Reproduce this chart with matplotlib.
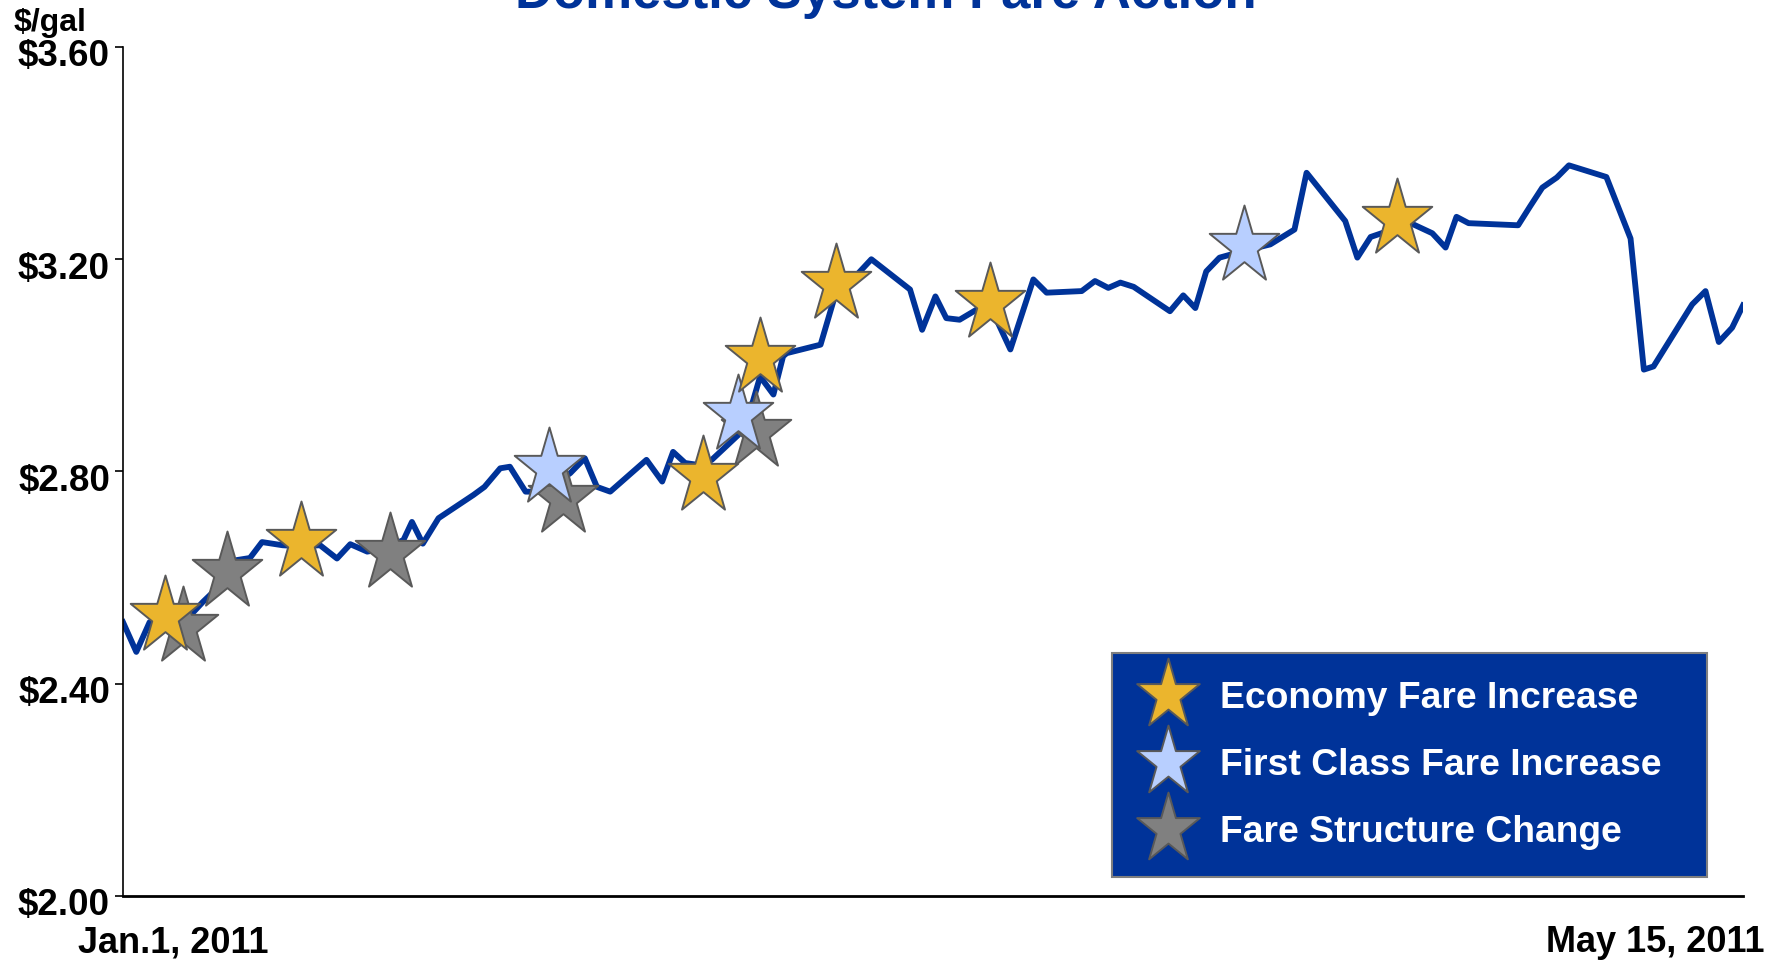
import numpy as np
import matplotlib.pyplot as plt
import matplotlib.transforms as mtransforms
from matplotlib.path import Path

plt.rcParams["font.family"] = ["Liberation Sans", "DejaVu Sans"]
plt.rcParams["font.weight"] = "bold"

# jet fuel price, days after Jan 1 2011
days = [0.0, 1.1, 2.2, 3.5, 4.7, 5.7, 6.6, 7.6, 8.7, 9.4,
        10.5, 11.5, 13.2, 14.6, 16.3, 17.7, 18.8, 20.2, 21.7, 23.2,
        23.9, 24.8, 26.1, 29.0, 29.9, 31.2, 32.0, 33.3, 34.5, 35.7,
        37.0, 38.2, 39.2, 40.3, 43.3, 44.6, 45.5, 46.5, 47.7, 48.7,
        50.9, 52.1, 52.7, 53.8, 54.6, 54.9, 57.7, 58.8, 61.9, 65.1,
        66.1, 67.2, 68.1, 69.2, 70.6, 71.7, 73.4, 75.3, 76.4, 79.3,
        80.4, 81.5, 82.5, 83.6, 86.6, 87.7, 88.7, 89.6, 90.7, 92.6,
        94.9, 96.9, 97.9, 101.1, 102.1, 103.2, 104.1, 105.4, 106.7, 108.3,
        109.4, 110.3, 111.3, 115.4, 116.4, 117.4, 118.6, 119.6, 122.7, 124.7,
        125.8, 126.6, 129.8, 130.9, 132.0, 133.1, 134.0]
price = [2.516, 2.460, 2.516, 2.523, 2.527, 2.532, 2.554, 2.576, 2.603, 2.633,
         2.637, 2.667, 2.661, 2.659, 2.661, 2.636, 2.663, 2.649, 2.655, 2.671,
         2.705, 2.664, 2.712, 2.756, 2.771, 2.806, 2.809, 2.762, 2.762, 2.776,
         2.797, 2.825, 2.771, 2.762, 2.822, 2.781, 2.837, 2.816, 2.812, 2.822,
         2.869, 2.932, 2.979, 2.945, 3.017, 3.023, 3.039, 3.124, 3.200, 3.143,
         3.067, 3.130, 3.089, 3.086, 3.105, 3.113, 3.030, 3.162, 3.137, 3.140,
         3.159, 3.146, 3.156, 3.148, 3.102, 3.132, 3.108, 3.177, 3.203, 3.215,
         3.228, 3.256, 3.363, 3.272, 3.203, 3.242, 3.249, 3.260, 3.266, 3.249,
         3.222, 3.280, 3.268, 3.264, 3.300, 3.335, 3.354, 3.377, 3.355, 3.239,
         2.992, 2.998, 3.115, 3.140, 3.044, 3.071, 3.113]

# fare actions (day, price level)
econ_days = [3.5, 14.7, 48.0, 52.7, 59.0, 71.7, 105.4]
econ_price = [2.528, 2.668, 2.791, 3.014, 3.154, 3.118, 3.276]
first_days = [35.2, 50.9, 92.7]
first_price = [2.806, 2.907, 3.225]
struct_days = [5.0, 8.6, 22.1, 36.4, 52.4]
struct_price = [2.507, 2.611, 2.646, 2.750, 2.874]

yticks = [2.00, 2.40, 2.80, 3.20, 3.60]
ytick_labels = ["$2.00", "$2.40", "$2.80", "$3.20", "$3.60"]

BLUE = "#003399"


def star_marker(inner=0.382, stretch=1.12):
    ang = np.pi / 2 + np.arange(10) * np.pi / 5
    r = np.where(np.arange(10) % 2 == 0, 1.0, inner)
    verts = np.column_stack([r * np.cos(ang), r * np.sin(ang) * stretch])
    verts = np.vstack([verts, verts[:1]])
    codes = [Path.MOVETO] + [Path.LINETO] * 9 + [Path.CLOSEPOLY]
    return Path(verts, codes)


STAR = star_marker()

fig = plt.figure(figsize=(17.86, 9.64), dpi=100)
ax = fig.add_axes([0.06887, 0.07054, 0.90705, 0.88071])

ax.plot(days, price, color=BLUE, linewidth=4.2, solid_joinstyle="round", zorder=2)

star_kw = dict(linestyle="none", marker=STAR, markersize=59,
               markeredgecolor="#595959", markeredgewidth=1.4, clip_on=False)
h_struct, = ax.plot(struct_days, struct_price, markerfacecolor="#808080",
                    label="Fare Structure Change", zorder=3, **star_kw)
h_first, = ax.plot(first_days, first_price, markerfacecolor="#b8cfff",
                   label="First Class Fare Increase", zorder=4, **star_kw)
h_econ, = ax.plot(econ_days, econ_price, markerfacecolor="#ebb52d",
                  label="Economy Fare Increase", zorder=5, **star_kw)

ax.set_xlim(0, 134)
ax.set_ylim(2.0, 3.6)
ax.set_yticks(yticks)
ax.set_yticklabels(ytick_labels, fontsize=26.5, fontweight="bold")
ax.set_xticks([])
ax.tick_params(axis="y", direction="out", length=5.8, width=1.2, pad=3.6)
shift = mtransforms.ScaledTranslation(0, -0.06, fig.dpi_scale_trans)
for lbl in ax.get_yticklabels():
    lbl.set_transform(lbl.get_transform() + shift)

for side in ["top", "right"]:
    ax.spines[side].set_visible(False)
ax.spines["left"].set_linewidth(1.2)
ax.spines["bottom"].set_linewidth(2.0)

leg = ax.legend(handles=[h_econ, h_first, h_struct], loc="upper left",
                bbox_to_anchor=(1112 / 1786, 1 - 878 / 964, 595 / 1786, 225 / 964),
                bbox_transform=fig.transFigure, mode="expand", borderaxespad=0,
                prop={"size": 26.8, "weight": "bold"}, labelcolor="white",
                facecolor=BLUE, edgecolor="#7f7f7f", framealpha=1,
                fancybox=False, markerscale=0.9, borderpad=0.74,
                handlelength=1.52, handletextpad=0.64, labelspacing=0.86)
leg.get_frame().set_linewidth(1.5)

fig.text(886 / 1786, 1 - 8 / 964, "Domestic System Fare Action", ha="center",
         va="baseline", fontsize=38, fontweight="bold", color=BLUE)
fig.text(14 / 1786, 1 - 23 / 964, "$/gal", ha="left", va="center",
         fontsize=23, fontweight="bold")
fig.text(173 / 1786, 1 - 943 / 964, "Jan.1, 2011", ha="center", va="center",
         fontsize=26, fontweight="bold")
fig.text(1765 / 1786, 1 - 943 / 964, "May 15, 2011", ha="right", va="center",
         fontsize=26, fontweight="bold")

fig.savefig("out.png", dpi=100)
